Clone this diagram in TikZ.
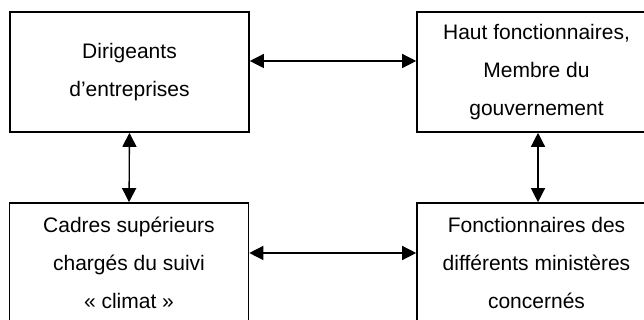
\documentclass[tikz,border=0pt]{standalone}
\usepackage{fontspec}
\setmainfont{Liberation Sans}
\usetikzlibrary{arrows.meta}

\tikzset{
    boite/.style={draw, line width=1.6pt, minimum width=239pt, minimum height=120pt,
        align=center, font=\fontsize{21}{38}\selectfont, inner sep=0pt},
    fleche/.style={line width=1.3pt, {Triangle[length=14pt,width=14pt]}-{Triangle[length=14pt,width=14pt]}}
}

\begin{document}
\begin{tikzpicture}[x=1pt,y=1pt]
    %cadre
    \useasboundingbox (0,0) rectangle (644,320);
    \clip (0,0) rectangle (644,320);

    % boites
    \node[boite] (dirigeants) at (129.5,248) {Dirigeants\\d’entreprises};
    \node[boite] (gouvernement) at (536.5,248) {Haut fonctionnaires,\\Membre du\\gouvernement};
    \node[boite] (cadres) at (129,57) {Cadres supérieurs\\chargés du suivi\\« climat »};
    \node[boite] (ministeres) at (536.5,57) {Fonctionnaires des\\différents ministères\\concernés};

    % fleches
    \draw[fleche] ([yshift=11pt]dirigeants.east) -- ([yshift=11pt]gouvernement.west);
    \draw[fleche] ([yshift=10pt]cadres.east) -- ([yshift=10pt]ministeres.west);
    \draw[fleche] (dirigeants.south) -- (cadres.north);
    \draw[fleche] ([xshift=1.5pt]gouvernement.south) -- ([xshift=1.5pt]ministeres.north);

\end{tikzpicture}
\end{document}
